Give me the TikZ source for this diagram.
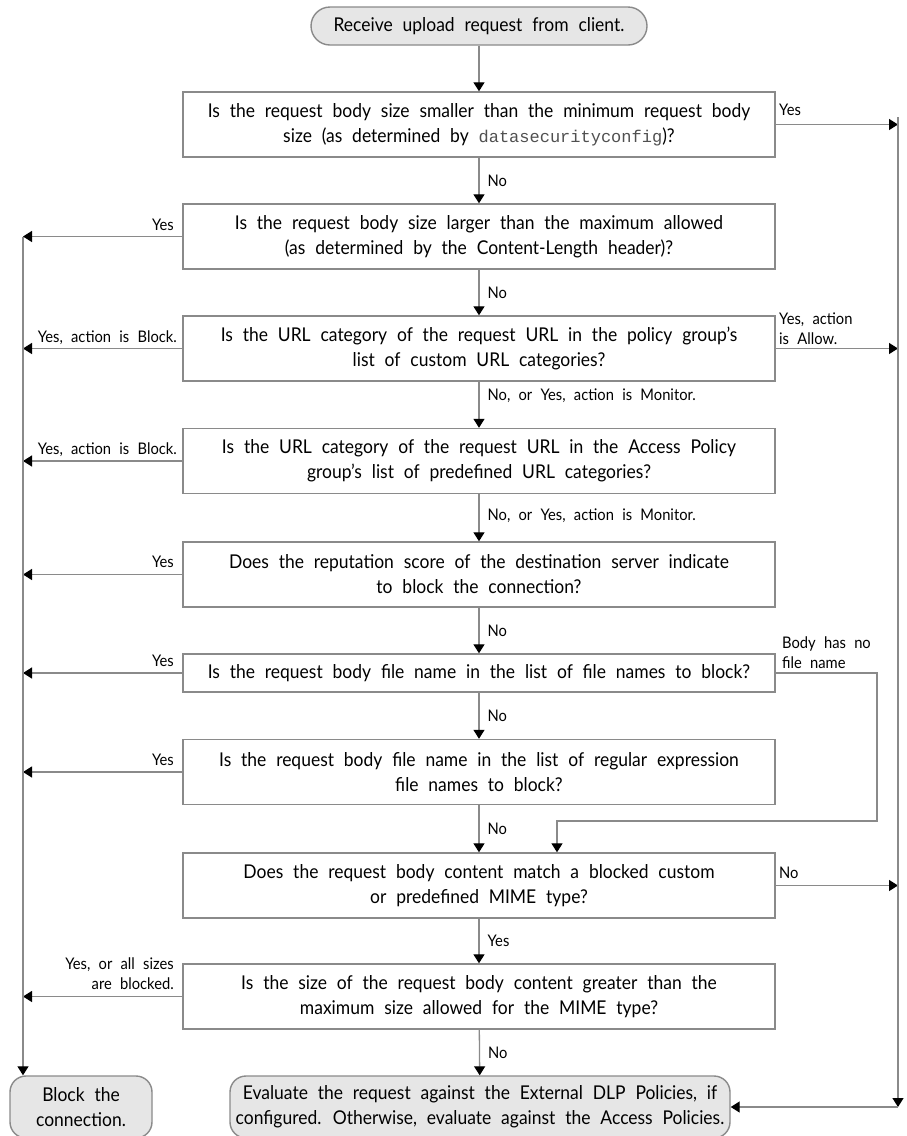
\documentclass[tikz,border=0pt]{standalone}
\usepackage{fontspec}
\setmainfont[FakeStretch=0.92,WordSpace=2.2]{Lato}
\newfontfamily\codefont{Liberation Mono}
\usetikzlibrary{arrows.meta}
\definecolor{linegray}{HTML}{8A8A8A}
\definecolor{termfill}{HTML}{E6E6E6}
\definecolor{codegray}{HTML}{505050}

\begin{document}
\begin{tikzpicture}[x=1pt,y=-1pt,
	line/.style={draw=linegray,line width=1.3pt},
	arr/.style={line,-{Triangle[length=9pt,width=11pt,color=black]}},
	qbox/.style={draw=linegray,line width=1.4pt,minimum width=592pt,minimum height=65pt,
		align=center,inner sep=0pt,font=\fontsize{19}{25}\selectfont},
	term/.style={qbox,fill=termfill,rounded corners=16pt},
	lbl/.style={font=\fontsize{16}{20}\selectfont,inner sep=0pt}]
	\useasboundingbox (0,0) rectangle (907,1136);
	\node[term,rounded corners=19pt,minimum width=336pt,minimum height=38pt] (start) at (479,26) {Receive upload request from client.};
	\node[qbox] (q1) at (479,124.5) {Is the request body size smaller than the minimum request body\\size (as determined by {\codefont\color{codegray}\fontsize{17}{25}\selectfont datasecurityconfig})?};
	\node[qbox] (q2) at (479,236.5) {Is the request body size larger than the maximum allowed\\(as determined by the Content-Length header)?};
	\node[qbox] (q3) at (479,348.5) {Is the URL category of the request URL in the policy group's\\list of custom URL categories?};
	\node[qbox] (q4) at (479,461) {Is the URL category of the request URL in the Access Policy\\group's list of predefined URL categories?};
	\node[qbox] (q5) at (479,574.5) {Does the reputation score of the destination server indicate\\to block the connection?};
	\node[qbox,minimum height=38pt] (q6) at (479,673) {Is the request body file name in the list of file names to block?};
	\node[qbox] (q7) at (479,772) {Is the request body file name in the list of regular expression\\file names to block?};
	\node[qbox] (q8) at (479,885.5) {Does the request body content match a blocked custom\\or predefined MIME type?};
	\node[qbox] (q9) at (479,996.5) {Is the size of the request body content greater than the\\maximum size allowed for the MIME type?};
	\node[term,minimum width=142pt,minimum height=62pt] (block) at (81,1107) {Block the\\connection.};
	\node[term,minimum width=500pt,minimum height=62pt] (eval) at (480,1107) {Evaluate the request against the External DLP Policies, if\\configured. Otherwise, evaluate against the Access Policies.};
	\coordinate (lx) at (23,0);
	\coordinate (rtop) at (898,117);
	\coordinate (rbot) at (898,1107);
	\coordinate (nf1) at (877,821);
	\coordinate (nf2) at (557,821);

	\draw[arr] (start) -- (q1);
	\draw[arr] (q1) -- node[lbl,anchor=west,xshift=8pt] {No} (q2);
	\draw[arr] (q2) -- node[lbl,anchor=west,xshift=8pt] {No} (q3);
	\draw[arr] (q3.south) -- node[lbl,anchor=west,xshift=8pt,pos=0.3] {No, or Yes, action is Monitor.} (q4.north);
	\draw[arr] (q4.south) -- node[lbl,anchor=west,xshift=8pt,pos=0.45] {No, or Yes, action is Monitor.} (q5.north);
	\draw[arr] (q5) -- node[lbl,anchor=west,xshift=8pt] {No} (q6);
	\draw[arr] (q6) -- node[lbl,anchor=west,xshift=8pt] {No} (q7);
	\draw[arr] (q7) -- node[lbl,anchor=west,xshift=8pt] {No} (q8);
	\draw[arr] (q8) -- node[lbl,anchor=west,xshift=8pt] {Yes} (q9);
	\draw[arr] (q9) -- node[lbl,anchor=west,xshift=8pt] {No} (eval);

	\draw[arr] (q2.west) -- (q2.west -| lx);
	\draw[arr] (q3.west) -- (q3.west -| lx);
	\draw[arr] (q4.west) -- (q4.west -| lx);
	\draw[arr] (q5.west) -- (q5.west -| lx);
	\draw[arr] (q6.west) -- (q6.west -| lx);
	\draw[arr] (q7.west) -- (q7.west -| lx);
	\draw[arr] (q9.west) -- (q9.west -| lx);
	\draw[arr] (q2.west -| lx) -- (block.north -| lx);
	\node[lbl,anchor=base east] (y2) at (174,230) {Yes};
	\node[lbl,anchor=base east] (y3) at (177,342) {Yes, action is Block.};
	\node[lbl,anchor=base east] (y4) at (177,454) {Yes, action is Block.};
	\node[lbl,anchor=base east] (y5) at (174,567) {Yes};
	\node[lbl,anchor=base east] (y6) at (174,666) {Yes};
	\node[lbl,anchor=base east] (y7) at (174,765) {Yes};
	\node[lbl,anchor=south east,align=right] (y9) at (174,990) {Yes, or all sizes\\are blocked.};

	\draw[arr] (q1.east) -- (q1.east -| rtop);
	\draw[arr] (q3.east) -- (q3.east -| rtop);
	\draw[arr] (q8.east) -- (q8.east -| rtop);
	\draw[arr] (rtop) -- (rbot);
	\draw[arr] (rbot) -- (eval.east);
	\draw[arr] (q6.east) -| (nf1) -- (nf2) -- (nf2 |- q8.north);
	\node[lbl,anchor=base west] (r1) at (779,115) {Yes};
	\node[lbl,anchor=south west,align=left] (r3) at (779,345) {Yes, action\\is Allow.};
	\node[lbl,anchor=south west,align=left] (r6) at (782,669) {Body has no\\file name};
	\node[lbl,anchor=base west] (r8) at (779,878) {No};
\end{tikzpicture}
\end{document}
